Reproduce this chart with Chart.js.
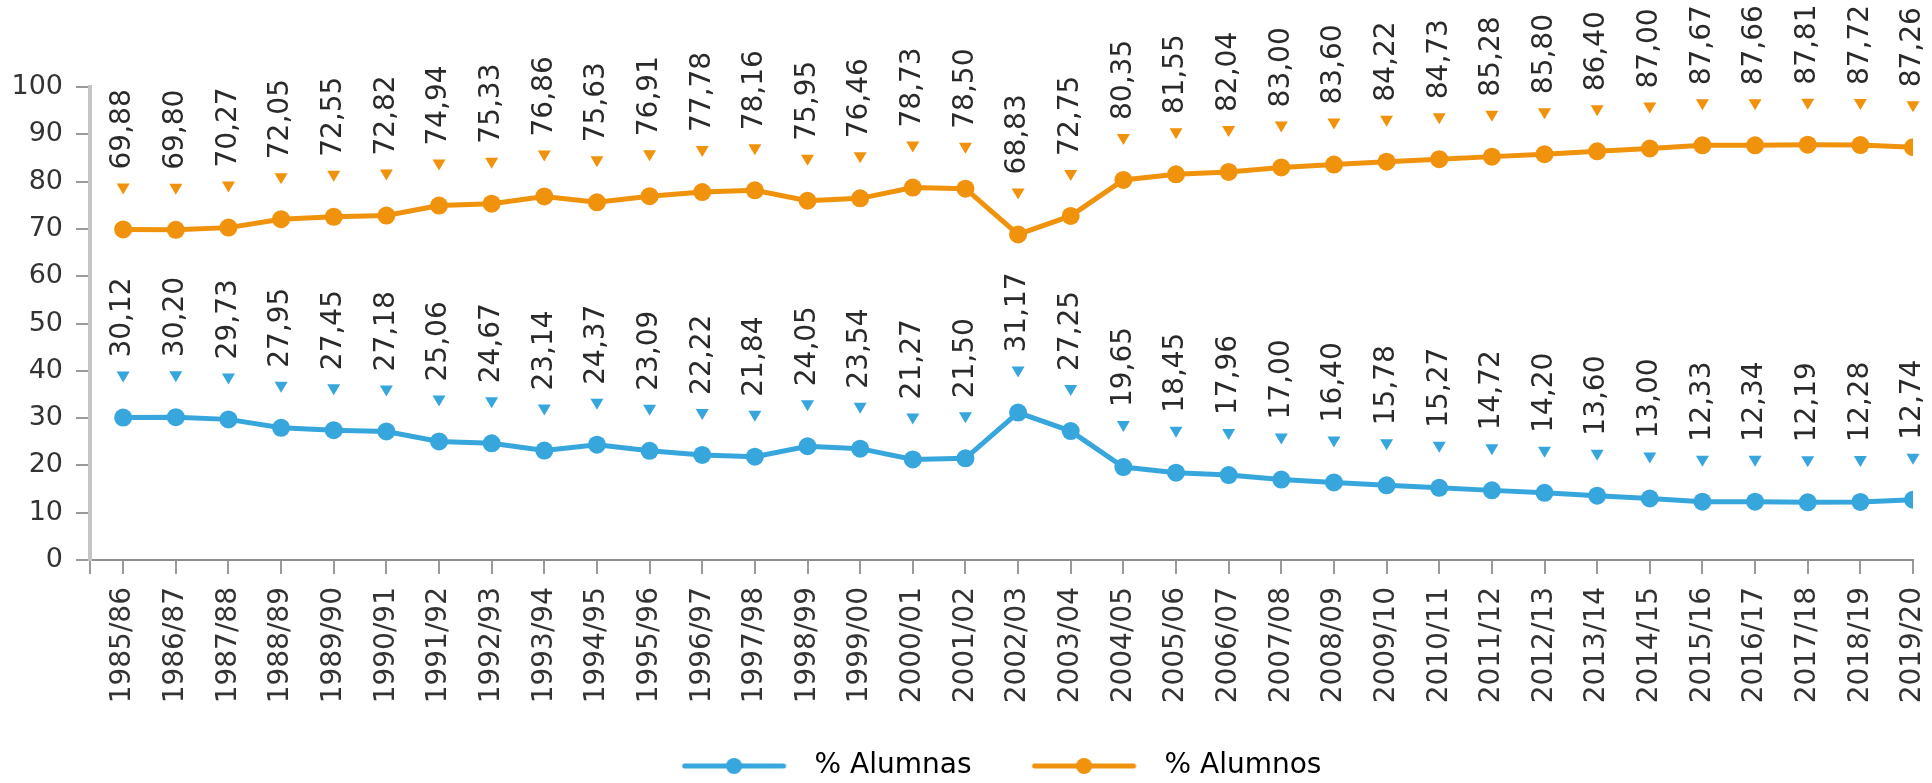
<!DOCTYPE html>
<html lang="es">
<head>
<meta charset="utf-8">
<title>% Alumnas / % Alumnos</title>
<script src="https://cdn.jsdelivr.net/npm/chart.js@4/dist/chart.umd.min.js"></script>
<style>
  html, body { margin: 0; padding: 0; background: #ffffff; }
  #wrap { width: 1932px; height: 783px; }
</style>
</head>
<body>
<div id="wrap"><canvas id="chart" width="1932" height="783"></canvas></div>
<script>
// Academic years
const cursos = [
  '1985/86','1986/87','1987/88','1988/89','1989/90','1990/91','1991/92','1992/93',
  '1993/94','1994/95','1995/96','1996/97','1997/98','1998/99','1999/00','2000/01',
  '2001/02','2002/03','2003/04','2004/05','2005/06','2006/07','2007/08','2008/09',
  '2009/10','2010/11','2011/12','2012/13','2013/14','2014/15','2015/16','2016/17',
  '2017/18','2018/19','2019/20'
];

// Share of female students (%)
const alumnas = [
  30.12, 30.20, 29.73, 27.95, 27.45, 27.18, 25.06, 24.67, 23.14, 24.37, 23.09, 22.22,
  21.84, 24.05, 23.54, 21.27, 21.50, 31.17, 27.25, 19.65, 18.45, 17.96, 17.00, 16.40,
  15.78, 15.27, 14.72, 14.20, 13.60, 13.00, 12.33, 12.34, 12.19, 12.28, 12.74
];

// Share of male students (%)
const alumnos = [
  69.88, 69.80, 70.27, 72.05, 72.55, 72.82, 74.94, 75.33, 76.86, 75.63, 76.91, 77.78,
  78.16, 75.95, 76.46, 78.73, 78.50, 68.83, 72.75, 80.35, 81.55, 82.04, 83.00, 83.60,
  84.22, 84.73, 85.28, 85.80, 86.40, 87.00, 87.67, 87.66, 87.81, 87.72, 87.26
];

// Y axis ticks
const yTicks = [0, 10, 20, 30, 40, 50, 60, 70, 80, 90, 100];

const seriesNames = ['% Alumnas', '% Alumnos'];
const BLUE = '#36a6dd';
const ORANGE = '#f0920b';
const FONT = '"DejaVu Sans", Verdana, sans-serif';
const Y_FONT_SIZE = 27;
const X_FONT_SIZE = 28;
const VALUE_FONT_SIZE = 28;

Chart.defaults.font.family = FONT;

const toPoints = arr => arr.map((v, i) => ({ x: i, y: v }));
const fmt = v => v.toFixed(2).replace('.', ',');

// Legend marker: a line with a dot in the middle
function legendIcon(color) {
  const c = document.createElement('canvas');
  c.width = 119; c.height = 20;
  const g = c.getContext('2d');
  g.strokeStyle = color;
  g.lineWidth = 5;
  g.lineCap = 'round';
  g.beginPath(); g.moveTo(3, 10); g.lineTo(102, 10); g.stroke();
  g.fillStyle = color;
  g.beginPath(); g.arc(52.5, 10, 8, 0, Math.PI * 2); g.fill();
  return c;
}
const icons = [legendIcon(BLUE), legendIcon(ORANGE)];

// Value labels: a small down-pointing triangle and a vertical number above each point
const valueLabels = {
  id: 'valueLabels',
  afterDatasetsDraw(chart) {
    const ctx = chart.ctx;
    chart.data.datasets.forEach((ds, di) => {
      const meta = chart.getDatasetMeta(di);
      meta.data.forEach((pt, i) => {
        const v = ds.data[i].y;
        const x = pt.x, y = pt.y;
        ctx.save();
        ctx.fillStyle = ds.borderColor;
        ctx.beginPath();
        ctx.moveTo(x - 6.5, y - 46);
        ctx.lineTo(x + 6.5, y - 46);
        ctx.lineTo(x, y - 35);
        ctx.closePath();
        ctx.fill();
        ctx.translate(x, y - 60);
        ctx.rotate(-Math.PI / 2);
        ctx.font = VALUE_FONT_SIZE + 'px ' + FONT;
        ctx.fillStyle = '#2a2a2a';
        ctx.textAlign = 'left';
        ctx.textBaseline = 'middle';
        ctx.fillText(fmt(v), 0, 0);
        ctx.restore();
      });
    });
  }
};

const X_MIN = -0.63;

new Chart(document.getElementById('chart'), {
  type: 'line',
  data: {
    datasets: [
      {
        label: seriesNames[0],
        data: toPoints(alumnas),
        borderColor: BLUE,
        backgroundColor: BLUE,
        pointBackgroundColor: BLUE,
        borderWidth: 5,
        pointRadius: 9,
        pointBorderWidth: 0,
        tension: 0
      },
      {
        label: seriesNames[1],
        data: toPoints(alumnos),
        borderColor: ORANGE,
        backgroundColor: ORANGE,
        pointBackgroundColor: ORANGE,
        borderWidth: 5,
        pointRadius: 9,
        pointBorderWidth: 0,
        tension: 0
      }
    ]
  },
  options: {
    responsive: false,
    animation: false,
    events: [],
    layout: { padding: { top: 87, left: 0, right: 19, bottom: -7 } },
    scales: {
      x: {
        type: 'linear',
        min: X_MIN,
        max: cursos.length - 1,
        afterBuildTicks: s => {
          s.ticks = [{ value: X_MIN }].concat(cursos.map((c, i) => ({ value: i })));
        },
        afterFit: s => {
          s.height = 132;
          s.paddingLeft = 0;
          s.paddingRight = 0;
        },
        grid: { drawOnChartArea: false, drawTicks: true, tickLength: 14, color: '#9a9a9a', lineWidth: 2 },
        border: { color: '#8f8f8f', width: 2 },
        ticks: {
          autoSkip: false,
          minRotation: 90,
          maxRotation: 90,
          // mirrored labels are not clipped to the axis box; the negative padding
          // and the offset put them back below the tick marks, centred on each tick
          mirror: true,
          padding: -27,
          labelOffset: X_FONT_SIZE * 1.2,
          color: '#333333',
          font: { size: X_FONT_SIZE },
          callback: v => (Number.isInteger(v) && cursos[v] !== undefined) ? cursos[v] : ''
        }
      },
      y: {
        min: 0,
        max: 100,
        afterBuildTicks: s => { s.ticks = yTicks.map(v => ({ value: v })); },
        afterFit: s => { s.width = 90; },
        grid: { drawOnChartArea: false, drawTicks: true, tickLength: 14, color: '#9a9a9a', lineWidth: 2 },
        border: { color: '#c4c4c4', width: 4 },
        ticks: {
          padding: 13,
          color: '#333333',
          font: { size: Y_FONT_SIZE },
          callback: v => String(v)
        }
      }
    },
    plugins: {
      tooltip: { enabled: false },
      legend: {
        position: 'bottom',
        fullSize: false,
        labels: {
          usePointStyle: true,
          pointStyleWidth: 119,
          padding: 60,
          color: '#333333',
          font: { size: 28 },
          generateLabels: chart => chart.data.datasets.map((ds, i) => ({
            text: ds.label,
            pointStyle: icons[i],
            fillStyle: ds.borderColor,
            strokeStyle: ds.borderColor,
            lineWidth: 0,
            hidden: false,
            datasetIndex: i
          }))
        }
      }
    }
  },
  plugins: [valueLabels]
});
</script>
</body>
</html>
